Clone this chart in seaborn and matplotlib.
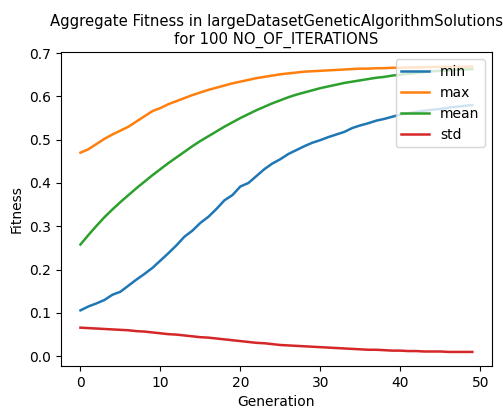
import pandas as pd
import matplotlib
matplotlib.use("Agg")
import matplotlib.pyplot as plt
import seaborn as sns

generations = list(range(50))

fit_min = [0.106, 0.115, 0.122, 0.130, 0.142, 0.149, 0.163, 0.177, 0.190, 0.204,
           0.221, 0.238, 0.256, 0.276, 0.290, 0.308, 0.322, 0.340, 0.360, 0.372,
           0.392, 0.400, 0.416, 0.432, 0.445, 0.455, 0.467, 0.476, 0.485, 0.493,
           0.499, 0.506, 0.512, 0.518, 0.527, 0.533, 0.538, 0.544, 0.548, 0.553,
           0.558, 0.561, 0.564, 0.567, 0.569, 0.571, 0.574, 0.576, 0.578, 0.580]

fit_max = [0.470, 0.478, 0.490, 0.502, 0.512, 0.521, 0.530, 0.542, 0.554, 0.566,
           0.573, 0.582, 0.589, 0.596, 0.603, 0.609, 0.615, 0.620, 0.625, 0.630,
           0.634, 0.638, 0.642, 0.645, 0.648, 0.651, 0.653, 0.655, 0.657, 0.658,
           0.659, 0.660, 0.661, 0.662, 0.663, 0.664, 0.664, 0.665, 0.665, 0.666,
           0.666, 0.667, 0.667, 0.667, 0.668, 0.668, 0.668, 0.668, 0.668, 0.669]

fit_mean = [0.258, 0.280, 0.301, 0.321, 0.339, 0.356, 0.372, 0.388, 0.403, 0.418,
            0.432, 0.446, 0.459, 0.472, 0.485, 0.497, 0.508, 0.519, 0.530, 0.540,
            0.550, 0.559, 0.568, 0.576, 0.584, 0.591, 0.598, 0.604, 0.609, 0.614,
            0.619, 0.623, 0.627, 0.631, 0.634, 0.637, 0.640, 0.643, 0.645, 0.648,
            0.650, 0.652, 0.654, 0.656, 0.658, 0.659, 0.660, 0.661, 0.662, 0.663]

fit_std = [0.066, 0.065, 0.064, 0.063, 0.062, 0.061, 0.060, 0.058, 0.057, 0.055,
           0.053, 0.051, 0.050, 0.048, 0.046, 0.044, 0.043, 0.041, 0.039, 0.037,
           0.035, 0.033, 0.031, 0.030, 0.028, 0.026, 0.025, 0.024, 0.023, 0.022,
           0.021, 0.020, 0.019, 0.018, 0.017, 0.016, 0.015, 0.015, 0.014, 0.013,
           0.013, 0.012, 0.012, 0.011, 0.011, 0.011, 0.010, 0.010, 0.010, 0.010]

series_names = ["min", "max", "mean", "std"]

# long format for seaborn
wide = pd.DataFrame({"min": fit_min, "max": fit_max, "mean": fit_mean, "std": fit_std},
                    index=pd.Index(generations, name="Generation"))
df = wide.reset_index().melt(id_vars="Generation", var_name="stat", value_name="Fitness")

fig, ax = plt.subplots(figsize=(5.03, 4.11), dpi=100)
sns.lineplot(data=df, x="Generation", y="Fitness", hue="stat", hue_order=series_names,
             palette=sns.color_palette("tab10", 4), linewidth=1.8, ax=ax)

ax.legend(loc="upper right", fontsize=10)
ax.set_title("Aggregate Fitness in largeDatasetGeneticAlgorithmSolutions\nfor 100 NO_OF_ITERATIONS",
             fontsize=10.7)
ax.set_xlabel("Generation", fontsize=10)
ax.set_ylabel("Fitness", fontsize=10)
ax.tick_params(labelsize=10)
ax.set_yticks([0.0, 0.1, 0.2, 0.3, 0.4, 0.5, 0.6, 0.7])

plt.subplots_adjust(left=0.121, right=0.978, top=0.873, bottom=0.109)
plt.savefig("out.png")
plt.close()
